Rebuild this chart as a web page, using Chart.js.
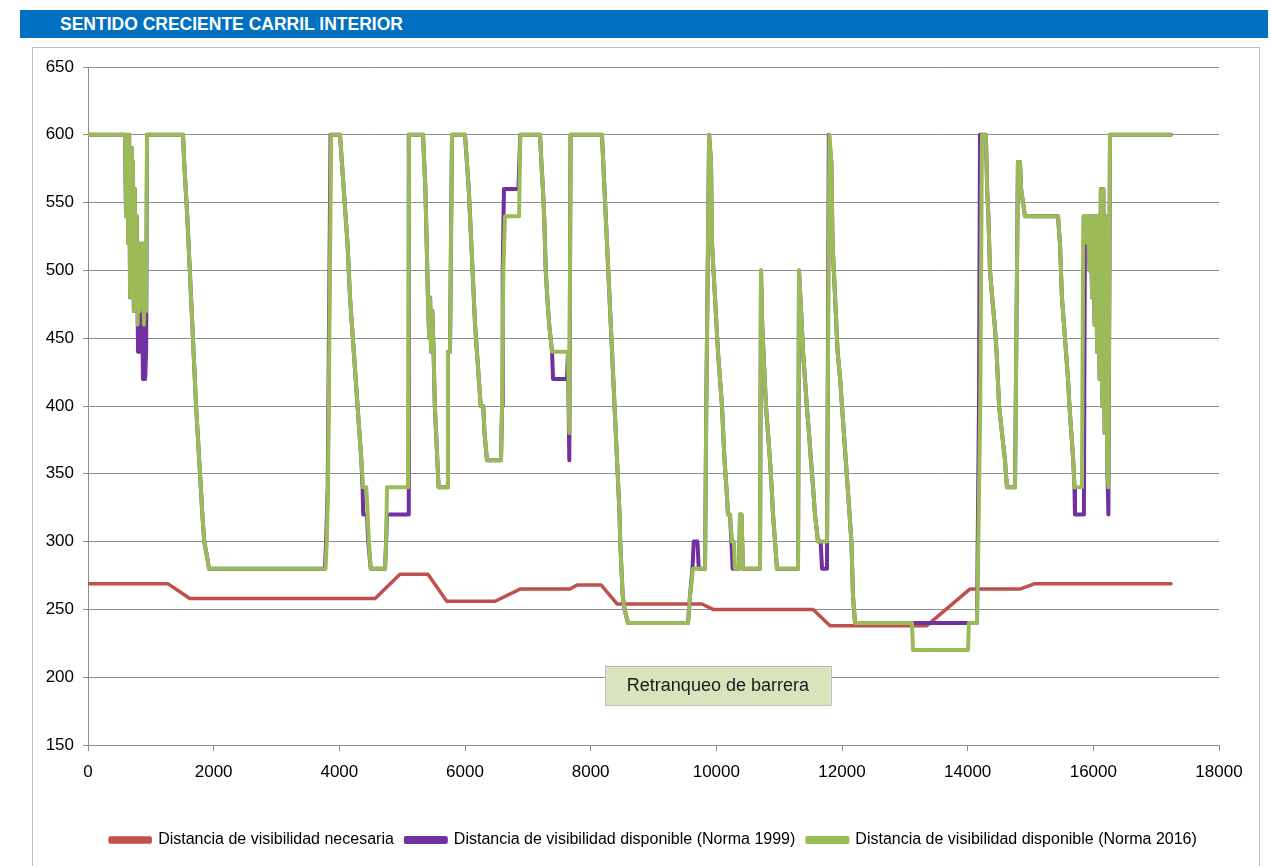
<!DOCTYPE html>
<html>
<head>
<meta charset="utf-8">
<script src="https://cdn.jsdelivr.net/npm/chart.js@4.4.1/dist/chart.umd.min.js"></script>
<style>
  html, body { margin: 0; padding: 0; background: #fff; }
  #wrap { position: relative; width: 1271px; height: 866px; overflow: hidden; }
  #titlebar { position: absolute; left: 20px; top: 10px; width: 1248px; height: 28px; background: #0070C0;
    color: #fff; font: bold 17.5px "Liberation Sans", Arial, sans-serif; line-height: 28px; padding-left: 40px; box-sizing: border-box; }
  #frame { position: absolute; left: 32px; top: 47px; width: 1228px; height: 840px; border: 1px solid #bfbfbf; box-sizing: border-box; }
  #c { position: absolute; left: 0; top: 0; }
</style>
</head>
<body>
<div id="wrap">
  <div id="titlebar">SENTIDO CRECIENTE CARRIL INTERIOR</div>
  <div id="frame"></div>
  <canvas id="c" width="1271" height="866"></canvas>
</div>
<script>
// ---- Data (x = distance in m, y = visibility distance in m) ----
const seriesNames = [
  'Distancia de visibilidad necesaria',
  'Distancia de visibilidad disponible (Norma 1999)',
  'Distancia de visibilidad disponible (Norma 2016)'
];

const necesariaX = [0, 1270, 1620, 4570, 4965, 5410, 5710, 6480, 6875, 7670, 7785, 8165, 8420, 9770, 9950, 11540, 11810, 13350, 14035, 14830, 15070, 17236];
const necesariaY = [269, 269, 258, 258, 276, 276, 256, 256, 265, 265, 268, 268, 254, 254, 250, 250, 238, 238, 265, 265, 269, 269];

const norma2016X = [0, 589, 605, 620, 640, 655, 670, 685, 700, 715, 730, 745, 760, 775, 790, 805, 820, 835, 850, 870, 890, 910, 925, 940,
  1512, 1530, 1555, 1580, 1600, 1620, 1640, 1660, 1680, 1700, 1720, 1745, 1770, 1795, 1820, 1850, 1890, 1926,
  3780, 3800, 3820, 3870, 4011, 4040, 4070, 4100, 4130, 4150, 4170, 4200, 4230, 4260, 4290, 4320, 4350, 4380, 4430, 4450, 4470, 4500,
  4727, 4745, 4759, 5093, 5110, 5332, 5350, 5370, 5390, 5410, 5430, 5445, 5460, 5480, 5500, 5520, 5540, 5560, 5580, 5714, 5729, 5761, 5793,
  6000, 6030, 6060, 6080, 6100, 6120, 6140, 6160, 6190, 6220, 6250, 6290, 6310, 6350, 6573, 6590, 6610, 6637, 6860, 6880,
  7194, 7215, 7240, 7260, 7285, 7310, 7340, 7385, 7639, 7660, 7680,
  8180, 8200, 8220, 8240, 8260, 8280, 8300, 8320, 8340, 8360, 8380, 8400, 8420, 8440, 8460, 8470, 8490, 8510, 8540, 8594,
  9549, 9581, 9629, 9820, 9840, 9885, 9915, 9931, 9955, 9979, 10026, 10058, 10090, 10110, 10130, 10160, 10186, 10217, 10249, 10280, 10297,
  10360, 10377, 10400, 10424, 10695, 10711, 10730, 10750, 10790, 10822, 10854, 10880, 10902, 10934, 10965,
  11300, 11316, 11360, 11380, 11410, 11440, 11475, 11506, 11540, 11570, 11618, 11761, 11800, 11830, 11850, 11870, 11890, 11930, 11970,
  12000, 12030, 12060, 12090, 12120, 12150, 12175, 12207, 13114, 13130, 14005, 14020, 14148, 14170, 14200, 14228, 14290, 14310, 14330,
  14355, 14390, 14430, 14460, 14480, 14500, 14546, 14594, 14625, 14753, 14785, 14800, 14833, 14850, 14912,
  15438, 15469, 15500, 15533, 15565, 15597, 15620, 15650, 15680, 15700, 15819, 15840, 15880, 15900, 15920, 15940, 15960, 15980,
  16000, 16020, 16040, 16060, 16080, 16100, 16120, 16140, 16160, 16180, 16200, 16220, 16240, 16265, 17236];
const norma2016Y = [600, 600, 540, 600, 520, 600, 480, 590, 500, 580, 470, 560, 480, 540, 460, 520, 470, 500, 480, 520, 460, 500, 470, 600,
  600, 580, 560, 540, 520, 500, 480, 460, 440, 420, 400, 380, 360, 340, 320, 300, 290, 280,
  280, 300, 340, 600, 600, 580, 560, 540, 520, 500, 480, 460, 440, 420, 400, 380, 360, 340, 340, 320, 300, 280,
  280, 300, 340, 340, 600, 600, 580, 560, 520, 480, 450, 480, 440, 470, 440, 400, 380, 360, 340, 340, 440, 440, 600,
  600, 580, 560, 540, 520, 500, 480, 460, 440, 420, 400, 400, 380, 360, 360, 400, 500, 540, 540, 600,
  600, 580, 560, 540, 500, 480, 460, 440, 440, 380, 600,
  600, 580, 560, 540, 520, 500, 480, 460, 440, 420, 400, 380, 360, 340, 320, 300, 280, 260, 250, 240,
  240, 260, 280, 280, 400, 600, 580, 520, 500, 480, 440, 420, 400, 380, 360, 340, 320, 320, 300, 300, 280,
  280, 320, 320, 280, 280, 500, 460, 440, 400, 380, 360, 340, 320, 300, 280,
  280, 500, 460, 440, 420, 400, 380, 360, 340, 320, 300, 300, 600, 580, 520, 500, 480, 440, 420,
  400, 380, 360, 340, 320, 300, 260, 240, 240, 220, 220, 240, 240, 300, 400, 600, 600, 560, 540,
  500, 480, 460, 440, 420, 400, 380, 360, 340, 340, 500, 580, 580, 560, 540,
  540, 520, 480, 460, 440, 420, 400, 380, 360, 340, 340, 540, 540, 520, 540, 500, 540, 480,
  540, 460, 540, 440, 540, 420, 560, 400, 560, 380, 540, 360, 340, 600, 600];

const norma1999X = [0, 589, 605, 620, 640, 655, 670, 685, 700, 715, 730, 745, 760, 775, 796, 810, 830, 845, 860, 875, 895, 910, 925, 940,
  1512, 1530, 1555, 1580, 1600, 1620, 1640, 1660, 1680, 1700, 1720, 1745, 1770, 1795, 1820, 1850, 1890, 1926,
  3770, 3790, 3815, 3860, 4011, 4040, 4070, 4100, 4130, 4150, 4170, 4200, 4230, 4260, 4290, 4320, 4350, 4370, 4380, 4440, 4460, 4500,
  4727, 4745, 4759, 5093, 5105, 5332, 5350, 5370, 5390, 5410, 5430, 5445, 5460, 5480, 5500, 5520, 5540, 5560, 5580, 5714, 5729, 5761, 5793,
  6000, 6030, 6060, 6080, 6100, 6120, 6140, 6160, 6190, 6220, 6250, 6290, 6310, 6350, 6573, 6590, 6600, 6620, 6850, 6880,
  7194, 7215, 7240, 7260, 7285, 7310, 7340, 7385, 7401, 7623, 7639, 7660, 7680,
  8180, 8200, 8220, 8240, 8260, 8280, 8300, 8320, 8340, 8360, 8380, 8400, 8420, 8440, 8460, 8470, 8490, 8510, 8540, 8594,
  9549, 9581, 9620, 9640, 9700, 9720, 9820, 9840, 9885, 9915, 9931, 9955, 9979, 10026, 10058, 10090, 10110, 10130, 10160, 10186, 10217, 10240, 10260,
  10360, 10377, 10400, 10424, 10695, 10711, 10730, 10750, 10790, 10822, 10854, 10880, 10902, 10934, 10965,
  11300, 11316, 11360, 11380, 11410, 11440, 11475, 11506, 11540, 11570, 11618, 11660, 11682, 11761, 11790, 11830, 11850, 11870, 11890, 11930, 11970,
  12000, 12030, 12060, 12090, 12120, 12150, 12175, 12207, 14148, 14180, 14196, 14290, 14310, 14330,
  14355, 14390, 14430, 14460, 14480, 14500, 14546, 14594, 14625, 14753, 14785, 14800, 14833, 14850, 14912,
  15438, 15469, 15500, 15533, 15565, 15597, 15620, 15650, 15680, 15700, 15708, 15850, 15867, 15880, 15900, 15920, 15940, 15960, 15980,
  16000, 16020, 16040, 16060, 16080, 16100, 16120, 16140, 16160, 16180, 16200, 16220, 16240, 16265, 17236];
const norma1999Y = [600, 600, 540, 600, 520, 600, 480, 590, 500, 580, 470, 560, 480, 540, 440, 520, 440, 500, 470, 420, 480, 420, 440, 600,
  600, 580, 560, 540, 520, 500, 480, 460, 440, 420, 400, 380, 360, 340, 320, 300, 290, 280,
  280, 300, 340, 600, 600, 580, 560, 540, 520, 500, 480, 460, 440, 420, 400, 380, 360, 340, 320, 320, 300, 280,
  280, 300, 320, 320, 600, 600, 580, 560, 520, 480, 450, 480, 440, 470, 440, 400, 380, 360, 340, 340, 440, 440, 600,
  600, 580, 560, 540, 520, 500, 480, 460, 440, 420, 400, 400, 380, 360, 360, 400, 500, 560, 560, 600,
  600, 580, 560, 540, 500, 480, 460, 440, 420, 420, 440, 360, 600,
  600, 580, 560, 540, 520, 500, 480, 460, 440, 420, 400, 380, 360, 340, 320, 300, 280, 260, 250, 240,
  240, 260, 280, 300, 300, 280, 280, 400, 600, 580, 520, 500, 480, 440, 420, 400, 380, 360, 340, 320, 320, 300, 280,
  280, 320, 320, 280, 280, 500, 460, 440, 400, 380, 360, 340, 320, 300, 280,
  280, 500, 460, 440, 420, 400, 380, 360, 340, 320, 300, 300, 280, 280, 600, 580, 520, 500, 480, 440, 420,
  400, 380, 360, 340, 320, 300, 260, 240, 240, 400, 600, 600, 560, 540,
  500, 480, 460, 440, 420, 400, 380, 360, 340, 340, 500, 580, 580, 560, 540,
  540, 520, 480, 460, 440, 420, 400, 380, 360, 340, 320, 320, 540, 540, 520, 540, 500, 540, 480,
  540, 460, 540, 440, 540, 420, 560, 400, 560, 380, 540, 360, 320, 600, 600];

const xTicks = [0, 2000, 4000, 6000, 8000, 10000, 12000, 14000, 16000, 18000];
const yTicks = [150, 200, 250, 300, 350, 400, 450, 500, 550, 600, 650];
const annotationText = 'Retranqueo de barrera';

// ---- Build ----
const toPoints = (xs, ys) => xs.map((x, i) => ({ x: x, y: ys[i] }));
const FONT = '"Liberation Sans", Arial, sans-serif';
const colors = ['#C0504D', '#7030A0', '#9BBB59'];

const annotationPlugin = {
  id: 'annotationBox',
  afterDatasetsDraw(chart) {
    const xs = chart.scales.x, ys = chart.scales.y, ctx = chart.ctx;
    const l = xs.getPixelForValue(8230), r = xs.getPixelForValue(11820);
    const t = ys.getPixelForValue(208.5), b = ys.getPixelForValue(179.5);
    ctx.save();
    ctx.fillStyle = '#D8E4BC';
    ctx.strokeStyle = '#BFBFBF';
    ctx.lineWidth = 1;
    ctx.fillRect(l, t, r - l, b - t);
    ctx.strokeRect(Math.round(l) + 0.5, Math.round(t) + 0.5, Math.round(r - l), Math.round(b - t));
    ctx.fillStyle = '#1a1a1a';
    ctx.font = '18px ' + FONT;
    ctx.textAlign = 'center';
    ctx.textBaseline = 'middle';
    ctx.fillText(annotationText, (l + r) / 2, (t + b) / 2 + 1);
    ctx.restore();
  }
};

new Chart(document.getElementById('c'), {
  type: 'line',
  data: {
    datasets: [
      { label: seriesNames[0], data: toPoints(necesariaX, necesariaY), borderColor: colors[0], backgroundColor: colors[0], borderWidth: 3.5, order: 3 },
      { label: seriesNames[1], data: toPoints(norma1999X, norma1999Y), borderColor: colors[1], backgroundColor: colors[1], borderWidth: 4, order: 2 },
      { label: seriesNames[2], data: toPoints(norma2016X, norma2016Y), borderColor: colors[2], backgroundColor: colors[2], borderWidth: 4, order: 1 }
    ]
  },
  options: {
    responsive: false,
    devicePixelRatio: 1,
    animation: false,
    elements: {
      point: { radius: 0, hoverRadius: 0 },
      line: { tension: 0, borderJoinStyle: 'round', borderCapStyle: 'round', fill: false }
    },
    layout: { padding: { left: 38, right: 52, top: 67, bottom: 8 } },
    scales: {
      x: {
        type: 'linear', min: 0, max: 18000,
        afterBuildTicks(s) { s.ticks = xTicks.map(v => ({ value: v })); },
        afterFit(s) { s.height = 75; },
        ticks: { padding: 11, color: '#000', font: { family: FONT, size: 17 }, maxRotation: 0, autoSkip: false,
          callback: (v) => String(v) },
        grid: { drawOnChartArea: false, drawTicks: true, tickLength: 6, color: '#8e8e8e' },
        border: { color: '#8e8e8e', width: 1 }
      },
      y: {
        type: 'linear', min: 150, max: 650,
        afterBuildTicks(s) { s.ticks = yTicks.map(v => ({ value: v })); },
        afterFit(s) { s.width = 50; },
        ticks: { padding: 9, color: '#000', font: { family: FONT, size: 17 }, callback: (v) => String(v) },
        grid: { color: '#8e8e8e', lineWidth: 1, tickLength: 5, drawTicks: true },
        border: { color: '#8e8e8e', width: 1 }
      }
    },
    plugins: {
      legend: {
        position: 'bottom',
        fullSize: false,
        labels: { boxWidth: 40, boxHeight: 4, padding: 12, color: '#000', font: { family: FONT, size: 16 },
          sort: (a, b) => a.datasetIndex - b.datasetIndex }
      },
      tooltip: { enabled: false },
      title: { display: false }
    }
  },
  plugins: [annotationPlugin]
});
</script>
</body>
</html>
